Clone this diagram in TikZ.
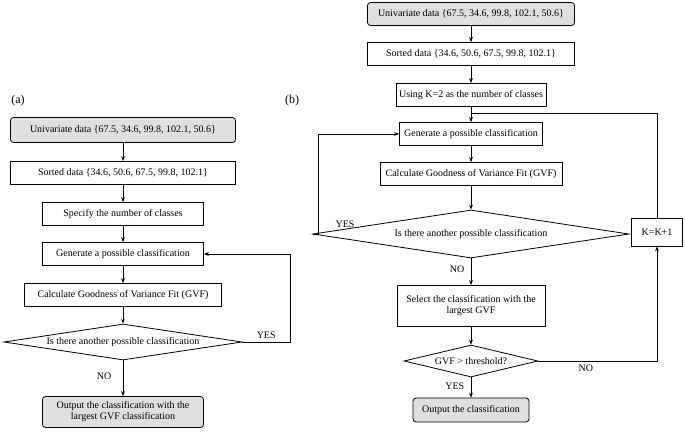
\documentclass[tikz,border=0pt]{standalone}
\usepackage{fontspec}
\setmainfont{Liberation Serif}
\usetikzlibrary{shapes.geometric,arrows.meta}
\begin{document}
\begin{tikzpicture}[x=1pt,y=-1pt,
    box/.style={draw, thick, font=\fontsize{10}{11}\selectfont, minimum height=23pt, inner sep=2pt, align=center},
    start/.style={box, rounded corners=3pt, fill=gray!25},
    dec/.style={draw, thick, diamond, aspect=6.5, inner sep=0pt, font=\fontsize{10}{11}\selectfont},
    arr/.style={thick, -{Stealth[length=5pt]}},
    lbl/.style={font=\fontsize{10}{11}\selectfont}]
    \useasboundingbox (0,0) rectangle (685,432);

    % (a)
    \node[lbl] at (18,101) {\fontsize{12}{13}\selectfont (a)};
    \node[start, minimum width=225pt, minimum height=25pt] (a1) at (123,130) {Univariate data \{67.5, 34.6, 99.8, 102.1, 50.6\}};
    \node[box, minimum width=225pt] (a2) at (123,173) {Sorted data \{34.6, 50.6, 67.5, 99.8, 102.1\}};
    \node[box, minimum width=161pt] (a3) at (123,214) {Specify the number of classes};
    \node[box, minimum width=161pt] (a4) at (123,254) {Generate a possible classification};
    \node[box, minimum width=197pt] (a5) at (123,295) {Calculate Goodness of Variance Fit (GVF)};
    \node[dec, minimum width=238pt, minimum height=36pt] (a6) at (123,342) {Is there another possible classification};
    \node[start, minimum width=161pt, minimum height=31pt] (a7) at (123,412) {Output the classification with the\\largest GVF classification};
    \draw[arr] (a1) -- (a2);
    \draw[arr] (a2) -- (a3);
    \draw[arr] (a3) -- (a4);
    \draw[arr] (a4) -- (a5);
    \draw[arr] (a5) -- (a6);
    \draw[arr] (a6) -- node[lbl, pos=0.45, left=8pt] {NO} (a7);
    \draw[arr] (a6.east) -- node[lbl, above, pos=0.5] {YES} (290,342) |- (a4.east);

    % (b)
    \node[lbl] at (292,101) {\fontsize{12}{13}\selectfont (b)};
    \node[start, minimum width=207pt] (b1) at (471,14) {Univariate data \{67.5, 34.6, 99.8, 102.1, 50.6\}};
    \node[box, minimum width=207pt] (b2) at (471,54) {Sorted data \{34.6, 50.6, 67.5, 99.8, 102.1\}};
    \node[box, minimum width=150pt] (b3) at (471,95) {Using K=2 as the number of classes};
    \node[box, minimum width=143pt] (b4) at (471,134) {Generate a possible classification};
    \node[box, minimum width=182pt] (b5) at (471,174) {Calculate Goodness of Variance Fit (GVF)};
    \node[dec, minimum width=316pt, minimum height=48pt] (b6) at (471,234) {Is there another possible classification};
    \node[box, minimum width=148pt, minimum height=41pt] (b7) at (471,306) {Select the classification with the\\largest GVF};
    \node[dec, minimum width=134pt, minimum height=32pt, aspect=4] (b8) at (471,361) {GVF > threshold?};
    \node[start, minimum width=116pt, minimum height=24pt] (b9) at (471,410) {Output the classification};
    \node[box, minimum width=51pt, minimum height=28pt] (k) at (657,232) {K=K+1};
    \coordinate (join) at (471,113);
    \draw[arr] (b1) -- (b2);
    \draw[arr] (b2) -- (b3);
    \draw[arr] (b3) -- (b4);
    \draw[arr] (b4) -- (b5);
    \draw[arr] (b5) -- (b6);
    \draw[arr] (b6) -- node[lbl, pos=0.4, left=3pt] {NO} (b7);
    \draw[arr] (b7) -- (b8);
    \draw[arr] (b8) -- node[lbl, pos=0.45, left=3pt] {YES} (b9);
    \draw[arr] (b6.west) -- (318,234) |- (b4.west);
    \node[lbl] (yesb) at (345,224) {YES};
    \draw[arr] (b8.east) -- node[lbl, below, pos=0.4] {NO} (657,361) -- (k.south);
    \draw[thick] (k.north) |- (join);
\end{tikzpicture}
\end{document}
